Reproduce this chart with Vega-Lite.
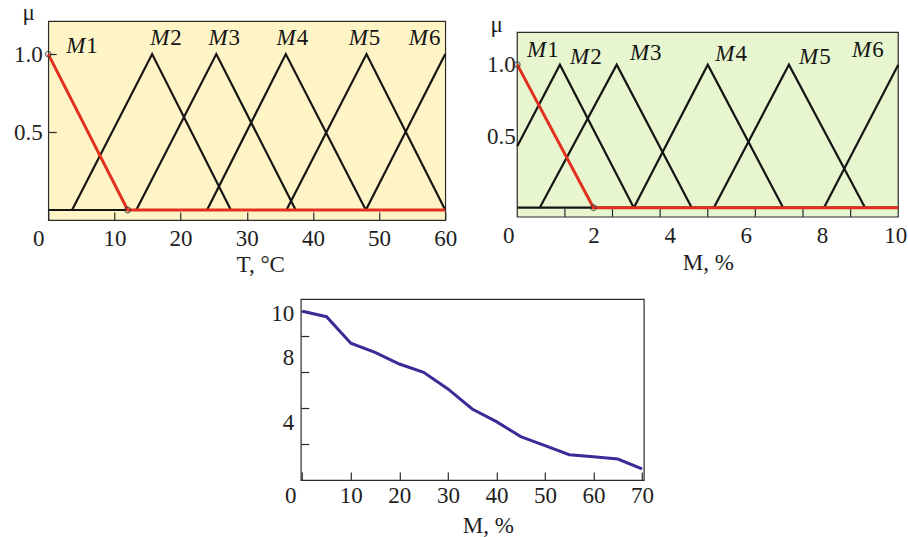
{
  "$schema": "https://vega.github.io/schema/vega-lite/v6.json",
  "background": "white",
  "padding": {"left": 12, "top": 0, "right": 0, "bottom": 0},
  "config": {
    "font": "Liberation Serif",
    "view": {"stroke": "#2b2b2b", "strokeWidth": 1.2},
    "axis": {
      "domain": false,
      "grid": false,
      "labelFont": "Liberation Serif",
      "labelFontSize": 23,
      "labelColor": "#1e1e1e",
      "titleFont": "Liberation Serif",
      "titleFontSize": 23,
      "titleFontWeight": "normal",
      "titleColor": "#1e1e1e",
      "tickColor": "#2b2b2b",
      "tickWidth": 1.2,
      "tickSize": -8,
      "labelFlush": false,
      "labelOverlap": false
    }
  },
  "datasets": {
    "tSets": [
      {"set": "base", "T": 0, "mu": 0}, {"set": "base", "T": 60, "mu": 0},
      {"set": "M2", "T": 3.6, "mu": 0}, {"set": "M2", "T": 15.7, "mu": 1}, {"set": "M2", "T": 27.6, "mu": 0},
      {"set": "M3", "T": 13.3, "mu": 0}, {"set": "M3", "T": 25.4, "mu": 1}, {"set": "M3", "T": 37.4, "mu": 0},
      {"set": "M4", "T": 24, "mu": 0}, {"set": "M4", "T": 35.9, "mu": 1}, {"set": "M4", "T": 48, "mu": 0},
      {"set": "M5", "T": 36, "mu": 0}, {"set": "M5", "T": 48.1, "mu": 1}, {"set": "M5", "T": 60, "mu": 0},
      {"set": "M6", "T": 48, "mu": 0}, {"set": "M6", "T": 60, "mu": 1}
    ],
    "tM1": [
      {"set": "M1", "T": 0, "mu": 1}, {"set": "M1", "T": 12, "mu": 0}, {"set": "M1", "T": 60, "mu": 0}
    ],
    "tLabels": [
      {"sym": "M", "idx": "1", "T": 5.6, "mu": 1.05},
      {"sym": "M", "idx": "2", "T": 18.3, "mu": 1.1},
      {"sym": "M", "idx": "3", "T": 27.1, "mu": 1.1},
      {"sym": "M", "idx": "4", "T": 37.4, "mu": 1.1},
      {"sym": "M", "idx": "5", "T": 48.3, "mu": 1.1},
      {"sym": "M", "idx": "6", "T": 57.4, "mu": 1.1}
    ],
    "mSets": [
      {"set": "base", "M": 0, "mu": 0}, {"set": "base", "M": 10, "mu": 0},
      {"set": "M2", "M": 0, "mu": 0.43}, {"set": "M2", "M": 1.12, "mu": 1}, {"set": "M2", "M": 3.06, "mu": 0},
      {"set": "M3", "M": 0.59, "mu": 0}, {"set": "M3", "M": 2.61, "mu": 1}, {"set": "M3", "M": 4.58, "mu": 0},
      {"set": "M4", "M": 3.06, "mu": 0}, {"set": "M4", "M": 5.0, "mu": 1}, {"set": "M4", "M": 6.98, "mu": 0},
      {"set": "M5", "M": 5.16, "mu": 0}, {"set": "M5", "M": 7.13, "mu": 1}, {"set": "M5", "M": 9.13, "mu": 0},
      {"set": "M6", "M": 8.05, "mu": 0}, {"set": "M6", "M": 10, "mu": 1}
    ],
    "mM1": [
      {"set": "M1", "M": 0, "mu": 1}, {"set": "M1", "M": 2, "mu": 0}, {"set": "M1", "M": 10, "mu": 0}
    ],
    "mTicks": [
      {"M": 1.25}, {"M": 2.5}, {"M": 3.75}, {"M": 5}, {"M": 6.25}, {"M": 7.5}, {"M": 8.75}
    ],
    "mLabels": [
      {"sym": "M", "idx": "1", "M": 0.76, "mu": 1.1},
      {"sym": "M", "idx": "2", "M": 1.89, "mu": 1.05},
      {"sym": "M", "idx": "3", "M": 3.46, "mu": 1.08},
      {"sym": "M", "idx": "4", "M": 5.7, "mu": 1.075},
      {"sym": "M", "idx": "5", "M": 7.9, "mu": 1.055},
      {"sym": "M", "idx": "6", "M": 9.29, "mu": 1.1}
    ],
    "curve": [
      {"M": 0, "v": 10.15}, {"M": 5, "v": 9.85}, {"M": 10, "v": 8.38}, {"M": 15, "v": 7.88},
      {"M": 20, "v": 7.23}, {"M": 25, "v": 6.77}, {"M": 30, "v": 5.85}, {"M": 35, "v": 4.74},
      {"M": 40, "v": 4.04}, {"M": 45, "v": 3.21}, {"M": 50, "v": 2.71}, {"M": 55, "v": 2.21},
      {"M": 60, "v": 2.1}, {"M": 65, "v": 1.97}, {"M": 70, "v": 1.42}
    ]
  },
  "spacing": 21,
  "center": true,
  "vconcat": [
    {
      "spacing": 28,
      "hconcat": [
        {
          "width": 397,
          "height": 199,
          "view": {"fill": "#FFF4C6"},
          "layer": [
            {
              "data": {"name": "tSets"},
              "mark": {"type": "line", "color": "#151515", "strokeWidth": 2.2},
              "encoding": {
                "x": {
                  "field": "T", "type": "quantitative",
                  "scale": {"domain": [0, 60], "nice": false, "zero": false},
                  "axis": {
                    "values": [0, 10, 20, 30, 40, 50, 60],
                    "labelPadding": 15,
                    "labelFlush": false,
                    "labelOverlap": false,
                    "labelOffset": {"condition": {"test": "datum.value == 0", "value": -10}, "value": 0},
                    "title": "T, °C",
                    "titleX": 212, "titleY": 51,
                    "titleAlign": "center", "titleBaseline": "alphabetic"
                  }
                },
                "y": {
                  "field": "mu", "type": "quantitative",
                  "scale": {"domain": [-0.064, 1.212], "nice": false, "zero": false},
                  "axis": {
                    "values": [0.5, 1],
                    "format": ".1f",
                    "labelPadding": 14,
                    "title": "μ",
                    "titleAngle": 0, "titleX": -20, "titleY": -2,
                    "titleAlign": "center", "titleBaseline": "alphabetic"
                  }
                },
                "detail": {"field": "set"}
              }
            },
            {
              "data": {"name": "tM1"},
              "mark": {"type": "line", "color": "#E2301F", "strokeWidth": 3},
              "encoding": {
                "x": {"field": "T", "type": "quantitative"},
                "y": {"field": "mu", "type": "quantitative"}
              }
            },
            {
              "data": {"name": "tM1"},
              "transform": [{"filter": "datum.T <= 12"}],
              "mark": {"type": "point", "filled": false, "size": 32, "stroke": "#333", "strokeWidth": 1.2},
              "encoding": {
                "x": {"field": "T", "type": "quantitative"},
                "y": {"field": "mu", "type": "quantitative"}
              }
            },
            {
              "data": {"name": "tLabels"},
              "mark": {"type": "text", "font": "Liberation Serif", "fontSize": 23, "fontStyle": "italic", "align": "right", "baseline": "middle", "color": "#151515"},
              "encoding": {
                "x": {"field": "T", "type": "quantitative"},
                "y": {"field": "mu", "type": "quantitative"},
                "text": {"field": "sym"}
              }
            },
            {
              "data": {"name": "tLabels"},
              "mark": {"type": "text", "font": "Liberation Serif", "fontSize": 23, "align": "left", "baseline": "middle", "dx": 1, "color": "#151515"},
              "encoding": {
                "x": {"field": "T", "type": "quantitative"},
                "y": {"field": "mu", "type": "quantitative"},
                "text": {"field": "idx"}
              }
            }
          ]
        },
        {
          "width": 381,
          "height": 196,
          "view": {"stroke": null, "fill": null},
          "layer": [
            {
              "data": {"values": [{}]},
              "mark": {"type": "rect", "fill": "#E7F6CE", "stroke": "#2b2b2b", "strokeWidth": 1.2},
              "encoding": {
                "x": {
                  "datum": 0, "type": "quantitative",
                  "scale": {"domain": [0, 10], "nice": false, "zero": false},
                  "axis": {
                    "values": [0, 2, 4, 6, 8, 10],
                    "labelOverlap": false,
                    "labelFlush": false,
                    "labelPadding": 15,
                    "tickOpacity": 0,
                    "labelOffset": {
                      "condition": [
                        {"test": "datum.value == 0", "value": -9},
                        {"test": "datum.value == 10", "value": -3}
                      ],
                      "value": 0
                    },
                    "title": "M, %",
                    "titleY": 52, "titleBaseline": "alphabetic"
                  }
                },
                "x2": {"datum": 10},
                "y": {
                  "datum": -0.065, "type": "quantitative",
                  "scale": {"domain": [-0.065, 1.305], "nice": false, "zero": false},
                  "axis": {
                    "values": [0.5, 1],
                    "format": ".1f",
                    "labelPadding": 10,
                    "title": "μ",
                    "titleAngle": 0, "titleX": -21, "titleY": 10,
                    "titleAlign": "center", "titleBaseline": "alphabetic"
                  }
                },
                "y2": {"datum": 1.226}
              }
            },
            {
              "data": {"name": "mTicks"},
              "mark": {"type": "rule", "color": "#2b2b2b", "strokeWidth": 1.2},
              "encoding": {
                "x": {"field": "M", "type": "quantitative"},
                "y": {"datum": -0.065, "type": "quantitative"},
                "y2": {"datum": -0.009}
              }
            },
            {
              "data": {"name": "mSets"},
              "mark": {"type": "line", "color": "#151515", "strokeWidth": 2.2},
              "encoding": {
                "x": {"field": "M", "type": "quantitative"},
                "y": {"field": "mu", "type": "quantitative"},
                "detail": {"field": "set"}
              }
            },
            {
              "data": {"name": "mM1"},
              "mark": {"type": "line", "color": "#E2301F", "strokeWidth": 3},
              "encoding": {
                "x": {"field": "M", "type": "quantitative"},
                "y": {"field": "mu", "type": "quantitative"}
              }
            },
            {
              "data": {"name": "mM1"},
              "transform": [{"filter": "datum.M <= 2"}],
              "mark": {"type": "point", "filled": false, "size": 32, "stroke": "#333", "strokeWidth": 1.2},
              "encoding": {
                "x": {"field": "M", "type": "quantitative"},
                "y": {"field": "mu", "type": "quantitative"}
              }
            },
            {
              "data": {"name": "mLabels"},
              "mark": {"type": "text", "font": "Liberation Serif", "fontSize": 23, "fontStyle": "italic", "align": "right", "baseline": "middle", "color": "#151515"},
              "encoding": {
                "x": {"field": "M", "type": "quantitative"},
                "y": {"field": "mu", "type": "quantitative"},
                "text": {"field": "sym"}
              }
            },
            {
              "data": {"name": "mLabels"},
              "mark": {"type": "text", "font": "Liberation Serif", "fontSize": 23, "align": "left", "baseline": "middle", "dx": 1, "color": "#151515"},
              "encoding": {
                "x": {"field": "M", "type": "quantitative"},
                "y": {"field": "mu", "type": "quantitative"},
                "text": {"field": "idx"}
              }
            }
          ]
        }
      ]
    },
    {
      "width": 343,
      "height": 181,
      "data": {"name": "curve"},
      "mark": {"type": "line", "color": "#3A2C97", "strokeWidth": 3},
      "encoding": {
        "x": {
          "field": "M", "type": "quantitative",
          "scale": {"domain": [-0.3, 70.35], "nice": false, "zero": false},
          "axis": {
            "values": [0, 10, 20, 30, 40, 50, 60, 70],
            "labelPadding": 12,
            "labelFlush": false,
            "labelOverlap": false,
            "labelOffset": {"condition": {"test": "datum.value == 0", "value": -12}, "value": 0},
            "title": "M, %",
            "titleX": 187, "titleY": 52,
            "titleAlign": "center", "titleBaseline": "alphabetic"
          }
        },
        "y": {
          "field": "v", "type": "quantitative",
          "scale": {"domain": [0.81, 10.83], "nice": false, "zero": false},
          "axis": {
            "values": [10.15, 10, 8.8, 8, 6.8, 4.8, 4, 2.8],
            "labelExpr": "datum.value == 10 || datum.value == 8 || datum.value == 4 ? datum.label : ''",
            "labelOverlap": false,
            "tickOpacity": {"condition": {"test": "datum.value == 10 || datum.value == 8 || datum.value == 4", "value": 0}, "value": 1},
            "labelOffset": {"condition": {"test": "datum.value == 8", "value": 7}, "value": 0},
            "labelPadding": 15,
            "title": null
          }
        }
      }
    }
  ]
}
